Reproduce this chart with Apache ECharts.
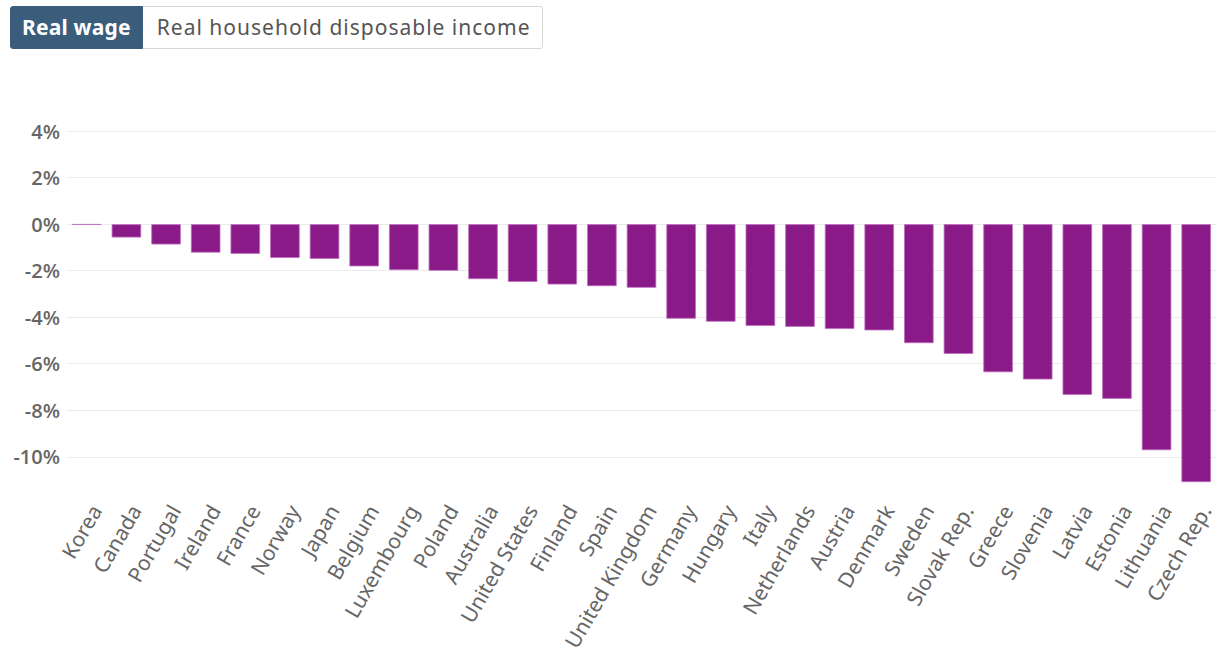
<!DOCTYPE html>
<html>
<head>
<meta charset="utf-8">
<script src="https://cdn.jsdelivr.net/npm/echarts@6/dist/echarts.min.js"></script>
<style>
  html, body { margin: 0; padding: 0; background: #fff; overflow: hidden; }
  #chart { position: absolute; left: 0; top: 0; width: 1216px; height: 654px; }
  .btns { position: absolute; left: 10px; top: 6px; display: flex; z-index: 2;
          font-family: "Noto Sans", "Open Sans", sans-serif; font-size: 21px; }
  .btn { height: 43px; line-height: 41px; box-sizing: border-box; white-space: nowrap; }
  .btn.active { background: #3a5d7c; color: #fff; font-weight: bold; border-radius: 3px 0 0 3px;
                border: 1px solid #3a5d7c; padding: 0 11px; letter-spacing: 0.2px; }
  .btn.inactive { background: #fff; color: #555; border: 1px solid #d8d8d8; border-left: none;
                  border-radius: 0 3px 3px 0; padding: 0 11px 0 14px; letter-spacing: 1px; }
</style>
</head>
<body>
<div class="btns">
  <div class="btn active">Real wage</div>
  <div class="btn inactive">Real household disposable income</div>
</div>
<div id="chart"></div>
<script>
const categories = ["Korea","Canada","Portugal","Ireland","France","Norway","Japan","Belgium","Luxembourg","Poland","Australia","United States","Finland","Spain","United Kingdom","Germany","Hungary","Italy","Netherlands","Austria","Denmark","Sweden","Slovak Rep.","Greece","Slovenia","Latvia","Estonia","Lithuania","Czech Rep."];
const realWage = [-0.03,-0.58,-0.88,-1.23,-1.28,-1.46,-1.50,-1.82,-1.98,-2.01,-2.37,-2.49,-2.60,-2.67,-2.74,-4.07,-4.20,-4.38,-4.42,-4.51,-4.57,-5.12,-5.58,-6.37,-6.68,-7.34,-7.51,-9.72,-11.09];
const yTicks = { min: -12, max: 4, interval: 2 };

const chart = echarts.init(document.getElementById('chart'), null, { renderer: 'svg' });
chart.setOption({
  animation: false,
  grid: { left: 67, right: -6, top: 131, bottom: 149, containLabel: false },
  xAxis: {
    type: 'category',
    data: categories,
    axisLine: { show: false },
    axisTick: { show: false },
    axisLabel: {
      rotate: 60, interval: 0, margin: -2, verticalAlign: 'top',
      color: '#666', fontSize: 21, fontFamily: 'Noto Sans'
    }
  },
  yAxis: {
    type: 'value',
    min: yTicks.min, max: yTicks.max, interval: yTicks.interval,
    axisLine: { show: false },
    axisTick: { show: false },
    splitLine: { show: true, showMinLine: false, lineStyle: { color: '#ebebeb', width: 1 } },
    axisLabel: {
      color: '#666', fontSize: 20, fontWeight: 600, fontFamily: 'Open Sans', margin: 7,
      formatter: v => v === yTicks.min ? '' : v + '%'
    }
  },
  series: [{
    type: 'bar',
    data: realWage,
    barCategoryGap: '25%',
    itemStyle: { color: '#8a1a87', borderColor: 'rgba(190,110,190,0.8)', borderWidth: 1 }
  }]
});
</script>
</body>
</html>
